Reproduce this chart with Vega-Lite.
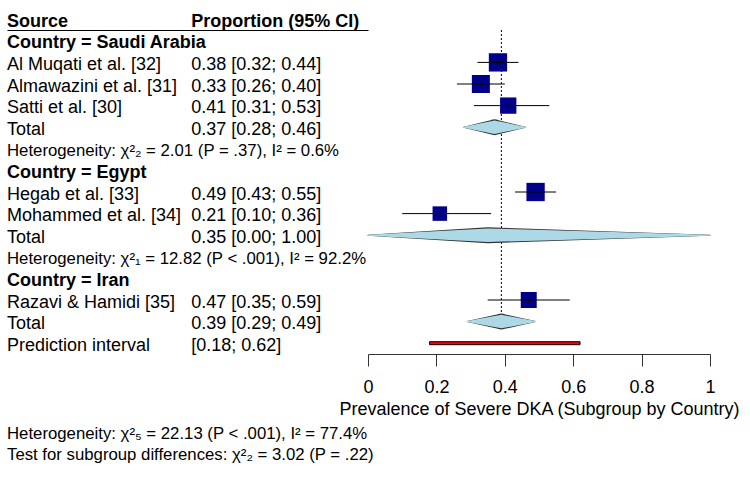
{
  "$schema": "https://vega.github.io/schema/vega-lite/v6.json",
  "padding": {"left": 7, "top": 12, "right": 0, "bottom": 0},
  "bounds": "flush",
  "spacing": 0,
  "background": "white",
  "config": {
    "view": {"stroke": null},
    "font": "Liberation Sans",
    "text": {"font": "Liberation Sans", "color": "#000000"}
  },
  "title": {
    "text": "Heterogeneity: χ²₅ = 22.13 (P < .001), I² = 77.4%",
    "subtitle": "Test for subgroup differences: χ²₂ = 3.02 (P = .22)",
    "orient": "bottom",
    "anchor": "start",
    "frame": "bounds",
    "offset": 8,
    "font": "Liberation Sans",
    "fontSize": 16.75,
    "fontWeight": "normal",
    "color": "#000000",
    "subtitleFont": "Liberation Sans",
    "subtitleFontSize": 16.75,
    "subtitleColor": "#000000",
    "subtitlePadding": 4
  },
  "datasets": {
    "forest": [
      {"row": 0, "kind": "head", "source": "Source", "ci": "Proportion (95% CI)"},
      {"row": 1, "kind": "group", "source": "Country = Saudi Arabia"},
      {"row": 2, "kind": "study", "source": "Al Muqati et al. [32]", "ci": "0.38 [0.32; 0.44]", "est": 0.38, "lo": 0.32, "hi": 0.44, "weight": 19.4},
      {"row": 3, "kind": "study", "source": "Almawazini et al. [31]", "ci": "0.33 [0.26; 0.40]", "est": 0.33, "lo": 0.26, "hi": 0.40, "weight": 18.8},
      {"row": 4, "kind": "study", "source": "Satti et al. [30]", "ci": "0.41 [0.31; 0.53]", "est": 0.41, "lo": 0.31, "hi": 0.53, "weight": 15.4},
      {"row": 5, "kind": "total", "source": "Total", "ci": "0.37 [0.28; 0.46]", "est": 0.37, "lo": 0.28, "hi": 0.46},
      {"row": 6, "kind": "het", "source": "Heterogeneity: χ²₂ = 2.01 (P = .37), I² = 0.6%"},
      {"row": 7, "kind": "group", "source": "Country = Egypt"},
      {"row": 8, "kind": "study", "source": "Hegab et al. [33]", "ci": "0.49 [0.43; 0.55]", "est": 0.49, "lo": 0.43, "hi": 0.55, "weight": 19.4},
      {"row": 9, "kind": "study", "source": "Mohammed et al. [34]", "ci": "0.21 [0.10; 0.36]", "est": 0.21, "lo": 0.10, "hi": 0.36, "weight": 12.2},
      {"row": 10, "kind": "total", "source": "Total", "ci": "0.35 [0.00; 1.00]", "est": 0.35, "lo": 0.00, "hi": 1.00},
      {"row": 11, "kind": "het", "source": "Heterogeneity: χ²₁ = 12.82 (P < .001), I² = 92.2%"},
      {"row": 12, "kind": "group", "source": "Country = Iran"},
      {"row": 13, "kind": "study", "source": "Razavi & Hamidi [35]", "ci": "0.47 [0.35; 0.59]", "est": 0.47, "lo": 0.35, "hi": 0.59, "weight": 14.8},
      {"row": 14, "kind": "overall", "source": "Total", "ci": "0.39 [0.29; 0.49]", "est": 0.39, "lo": 0.29, "hi": 0.49},
      {"row": 15, "kind": "pred", "source": "Prediction interval", "ci": "[0.18; 0.62]", "lo": 0.18, "hi": 0.62}
    ]
  },
  "hconcat": [
    {
      "width": 361,
      "height": 324,
      "data": {"name": "forest"},
      "transform": [
        {"fold": ["source", "ci"], "as": ["col", "text"]},
        {"filter": "datum.text != null"}
      ],
      "encoding": {
        "x": {
          "field": "col",
          "type": "nominal",
          "bandPosition": 0,
          "scale": {"type": "band", "domain": ["source", "ci"], "paddingInner": 0.04, "paddingOuter": 0},
          "axis": {"orient": "top", "title": null, "labels": false, "ticks": false, "grid": false, "domainColor": "#000000", "domainWidth": 1}
        },
        "y": {
          "field": "row",
          "type": "quantitative",
          "scale": {"domain": [0.5, 15.5], "reverse": true, "nice": false, "zero": false, "padding": 0},
          "axis": null
        },
        "text": {"field": "text"}
      },
      "layer": [
        {
          "transform": [{"filter": "datum.kind == 'head' || datum.kind == 'group'"}],
          "mark": {"type": "text", "align": "left", "baseline": "alphabetic", "dy": 7.5, "fontSize": 18, "fontWeight": "bold", "color": "#000000"}
        },
        {
          "transform": [{"filter": "datum.kind == 'study' || datum.kind == 'total' || datum.kind == 'overall' || datum.kind == 'pred'"}],
          "mark": {"type": "text", "align": "left", "baseline": "alphabetic", "dy": 7.5, "fontSize": 18, "color": "#000000"}
        },
        {
          "transform": [{"filter": "datum.kind == 'het'"}],
          "mark": {"type": "text", "align": "left", "baseline": "alphabetic", "dy": 7, "fontSize": 16.75, "color": "#000000"}
        }
      ]
    },
    {
      "width": 342,
      "height": 324,
      "data": {"name": "forest"},
      "encoding": {
        "y": {
          "field": "row",
          "type": "quantitative",
          "scale": {"domain": [0.5, 15.5], "reverse": true, "nice": false, "zero": false, "padding": 0},
          "axis": null
        }
      },
      "layer": [
        {
          "transform": [{"filter": "datum.kind == 'overall'"}],
          "mark": {"type": "rule", "color": "#000000", "strokeWidth": 1, "strokeDash": [2, 2]},
          "encoding": {
            "x": {
              "field": "est",
              "type": "quantitative",
              "scale": {"domain": [0, 1], "nice": false, "zero": false, "padding": 0},
              "axis": {
                "values": [0, 0.2, 0.4, 0.6, 0.8, 1],
                "format": "~g",
                "grid": false,
                "tickSize": 12,
                "tickColor": "#333333",
                "domainColor": "#333333",
                "labelFont": "Liberation Sans",
                "labelFontSize": 18,
                "labelColor": "#000000",
                "labelPadding": 12,
                "labelFlush": false,
                "labelOverlap": false,
                "title": "Prevalence of Severe DKA (Subgroup by Country)",
                "titleFont": "Liberation Sans",
                "titleFontSize": 18,
                "titleFontWeight": "normal",
                "titleColor": "#000000",
                "titlePadding": 4
              }
            },
            "y": {"datum": 0.5},
            "y2": {"datum": 14.35}
          }
        },
        {
          "transform": [
            {"filter": "datum.kind == 'total' || datum.kind == 'overall'"},
            {"fold": ["lo", "est", "hi"], "as": ["pt", "val"]}
          ],
          "mark": {"type": "trail", "color": "#333333"},
          "encoding": {
            "x": {"field": "val", "type": "quantitative"},
            "detail": {"field": "row", "type": "nominal"},
            "order": {"field": "val", "type": "quantitative"},
            "size": {"condition": {"test": "datum.pt == 'est'", "value": 16}, "value": 1}
          }
        },
        {
          "transform": [
            {"filter": "datum.kind == 'total' || datum.kind == 'overall'"},
            {"fold": ["lo", "est", "hi"], "as": ["pt", "val"]}
          ],
          "mark": {"type": "trail", "color": "#ADD8E6"},
          "encoding": {
            "x": {"field": "val", "type": "quantitative"},
            "detail": {"field": "row", "type": "nominal"},
            "order": {"field": "val", "type": "quantitative"},
            "size": {"condition": {"test": "datum.pt == 'est'", "value": 13.5}, "value": 0}
          }
        },
        {
          "transform": [{"filter": "datum.kind == 'study'"}],
          "mark": {"type": "point", "shape": "square", "filled": true, "color": "#00008B", "opacity": 1},
          "encoding": {
            "x": {"field": "est", "type": "quantitative"},
            "size": {"field": "weight", "type": "quantitative", "scale": {"domain": [0, 20], "range": [0, 345], "zero": true}, "legend": null}
          }
        },
        {
          "transform": [{"filter": "datum.kind == 'study'"}],
          "mark": {"type": "rule", "color": "#000000", "strokeWidth": 1},
          "encoding": {
            "x": {"field": "lo", "type": "quantitative"},
            "x2": {"field": "hi"}
          }
        },
        {
          "transform": [{"filter": "datum.kind == 'study'"}],
          "mark": {"type": "tick", "orient": "vertical", "color": "#000000", "thickness": 1, "size": 5},
          "encoding": {
            "x": {"field": "est", "type": "quantitative"}
          }
        },
        {
          "transform": [{"filter": "datum.kind == 'pred'"}],
          "mark": {"type": "bar", "color": "#FF0000", "stroke": "#000000", "strokeWidth": 1, "size": 3},
          "encoding": {
            "x": {"field": "lo", "type": "quantitative"},
            "x2": {"field": "hi"}
          }
        }
      ]
    }
  ]
}
